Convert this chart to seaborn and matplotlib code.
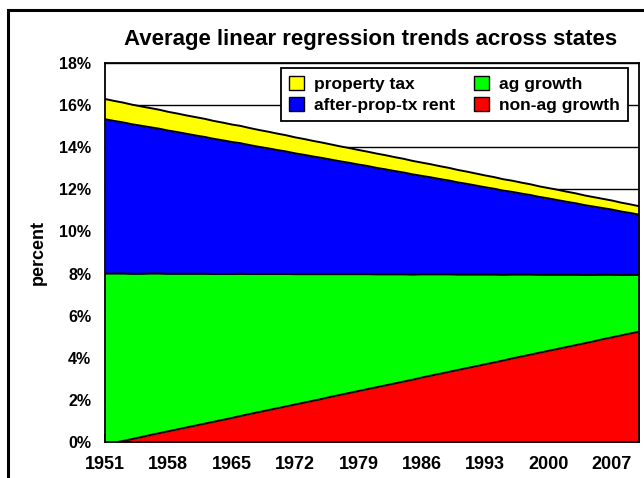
import numpy as np
import pandas as pd
import matplotlib
matplotlib.use("Agg")
import matplotlib.pyplot as plt
from matplotlib.patches import Rectangle, Patch
from matplotlib.ticker import FixedLocator, MultipleLocator, FuncFormatter
import seaborn as sns

years = list(range(1951, 2011))

non_ag_growth = [
    -0.13, -0.04, 0.05, 0.14, 0.23, 0.33, 0.42, 0.51, 0.60, 0.69,
    0.78, 0.87, 0.96, 1.05, 1.14, 1.24, 1.33, 1.42, 1.51, 1.60,
    1.69, 1.78, 1.87, 1.96, 2.05, 2.15, 2.24, 2.33, 2.42, 2.51,
    2.60, 2.69, 2.78, 2.87, 2.96, 3.06, 3.15, 3.24, 3.33, 3.42,
    3.51, 3.60, 3.69, 3.78, 3.87, 3.97, 4.06, 4.15, 4.24, 4.33,
    4.42, 4.51, 4.60, 4.69, 4.78, 4.88, 4.97, 5.06, 5.15, 5.24,
]
ag_growth = [
    8.13, 8.04, 7.95, 7.85, 7.76, 7.67, 7.58, 7.48, 7.39, 7.30,
    7.21, 7.12, 7.02, 6.93, 6.84, 6.75, 6.65, 6.56, 6.47, 6.38,
    6.29, 6.19, 6.10, 6.01, 5.92, 5.82, 5.73, 5.64, 5.55, 5.46,
    5.36, 5.27, 5.18, 5.09, 4.99, 4.90, 4.81, 4.72, 4.63, 4.53,
    4.44, 4.35, 4.26, 4.17, 4.07, 3.98, 3.89, 3.80, 3.70, 3.61,
    3.52, 3.43, 3.34, 3.24, 3.15, 3.06, 2.97, 2.87, 2.78, 2.69,
]
after_prop_tx_rent = [
    7.33, 7.25, 7.18, 7.10, 7.03, 6.95, 6.88, 6.80, 6.73, 6.65,
    6.57, 6.50, 6.42, 6.35, 6.27, 6.20, 6.12, 6.04, 5.97, 5.89,
    5.82, 5.74, 5.67, 5.59, 5.52, 5.44, 5.36, 5.29, 5.21, 5.14,
    5.06, 4.99, 4.91, 4.84, 4.76, 4.68, 4.61, 4.53, 4.46, 4.38,
    4.31, 4.23, 4.15, 4.08, 4.00, 3.93, 3.85, 3.78, 3.70, 3.63,
    3.55, 3.47, 3.40, 3.32, 3.25, 3.17, 3.10, 3.02, 2.95, 2.87,
]
property_tax = [
    0.96, 0.95, 0.94, 0.93, 0.92, 0.91, 0.90, 0.89, 0.88, 0.87,
    0.87, 0.86, 0.85, 0.84, 0.83, 0.82, 0.81, 0.80, 0.79, 0.78,
    0.77, 0.76, 0.75, 0.74, 0.73, 0.72, 0.71, 0.70, 0.69, 0.68,
    0.68, 0.67, 0.66, 0.65, 0.64, 0.63, 0.62, 0.61, 0.60, 0.59,
    0.58, 0.57, 0.56, 0.55, 0.54, 0.53, 0.52, 0.51, 0.50, 0.49,
    0.49, 0.48, 0.47, 0.46, 0.45, 0.44, 0.43, 0.42, 0.41, 0.40,
]

labelled_years = [1951, 1958, 1965, 1972, 1979, 1986, 1993, 2000, 2007]

# bottom-to-top stacking order
layers = [
    ("non-ag growth", non_ag_growth, "#FF0000"),
    ("ag growth", ag_growth, "#00FF00"),
    ("after-prop-tx rent", after_prop_tx_rent, "#0000FF"),
    ("property tax", property_tax, "#FFFF00"),
]

sns.set_theme(style="white")
plt.rcParams["font.family"] = ["Liberation Sans", "DejaVu Sans"]
plt.rcParams["font.weight"] = "bold"
for key in ("text.color", "axes.labelcolor", "xtick.color", "ytick.color"):
    plt.rcParams[key] = "black"

W, H = 644, 478
fig = plt.figure(figsize=(W / 100, H / 100), dpi=100)
fig.patch.set_facecolor("white")

# outer chart frame (runs off the right and bottom edges)
fig.patches.append(Rectangle((8 / W, -0.2), 1.2, 1.2 - 10 / H,
                             transform=fig.transFigure, fill=False,
                             ec="black", lw=2.2, zorder=0))

left, right, top, bottom = 105, 639, 63, 442
ax = fig.add_axes([left / W, 1 - bottom / H, (right - left) / W, (bottom - top) / H])
ax.set_facecolor("white")

df = pd.DataFrame({"year": years})
for name, vals, _ in layers:
    df[name] = vals

stack = np.vstack([df[name].to_numpy() for name, _, _ in layers])
ax.stackplot(df["year"], stack, colors=[c for _, _, c in layers],
             linewidth=0, zorder=1)

# black outline along the top of each band
cum = stack.cumsum(axis=0)
for i, (name, _, _) in enumerate(layers):
    sns.lineplot(x=df["year"], y=cum[i], color="black", lw=1.4,
                 ax=ax, legend=False, zorder=2)

ax.set_xlim(years[0], years[-1])
ax.set_ylim(0, 18)

ax.set_axisbelow(True)
ax.yaxis.set_major_locator(MultipleLocator(2))
ax.yaxis.set_major_formatter(FuncFormatter(lambda v, p: f"{v:.0f}%"))
ax.grid(axis="y", color="black", lw=1.0)
ax.grid(axis="x", visible=False)

ax.xaxis.set_major_locator(FixedLocator(labelled_years))
ax.xaxis.set_minor_locator(FixedLocator(years))
ax.xaxis.set_major_formatter(FuncFormatter(lambda v, p: f"{v:.0f}"))
ax.tick_params(axis="x", which="both", direction="in", length=6,
               width=1.3, color="black", bottom=True, top=False)
ax.tick_params(axis="x", which="major", labelsize=13, pad=10)
ax.tick_params(axis="y", length=0, labelsize=11.5, pad=10)
for lbl in ax.get_xticklabels() + ax.get_yticklabels():
    lbl.set_fontweight("bold")

for s in ax.spines.values():
    s.set_visible(True)
    s.set_color("black")
    s.set_linewidth(1.3)
    s.set_zorder(3)

ax.set_xlabel("")
ax.set_ylabel("percent", fontsize=13, fontweight="bold", labelpad=9)

fig.text(371 / W, 1 - 40 / H, "Average linear regression trends across states",
         ha="center", va="center", fontsize=16, fontweight="bold")

order = ["property tax", "after-prop-tx rent", "ag growth", "non-ag growth"]
colors = {name: c for name, _, c in layers}
handles = [Patch(facecolor=colors[n], edgecolor="black", lw=1.0, label=n) for n in order]
leg = ax.legend(handles=handles, ncol=2, loc="upper left",
                bbox_to_anchor=(281 / W, 1 - 68 / H), bbox_transform=fig.transFigure,
                frameon=True, fancybox=False, shadow=False, framealpha=1,
                edgecolor="black", fontsize=12.5, handlelength=0.85, handleheight=0.85,
                handletextpad=0.6, columnspacing=1.1, labelspacing=0.3,
                borderpad=0.45, borderaxespad=0)
leg.get_frame().set_linewidth(1.3)
for t in leg.get_texts():
    t.set_fontweight("bold")

fig.savefig("out.png", dpi=100)
